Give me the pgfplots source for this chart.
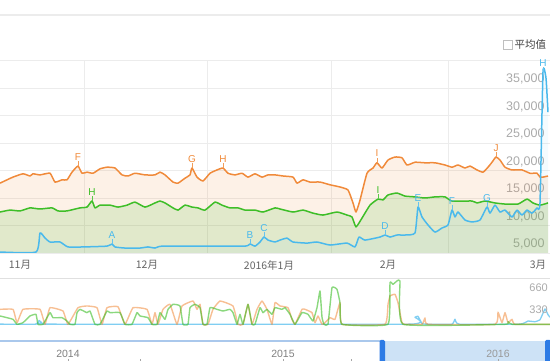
\documentclass[border=0pt]{standalone}
\usepackage{pgfplots}
\pgfplotsset{compat=1.18}
\usepackage{pgfplotstable}
\usepackage{fontspec}
\setmainfont{Liberation Sans}
\newfontfamily\cjk{Noto Sans CJK SC}
\definecolor{oC}{RGB}{240,138,58}
\definecolor{gC}{RGB}{62,190,40}
\definecolor{bC}{RGB}{74,185,236}
\definecolor{gridC}{RGB}{236,236,236}
\definecolor{lblC}{RGB}{170,170,170}
\definecolor{monC}{RGB}{100,100,100}
\definecolor{selC}{RGB}{205,226,246}
\definecolor{handleC}{RGB}{45,123,229}
\definecolor{slineC}{RGB}{170,200,236}
\newcommand\evt[4]{\draw[color=#1!85, line width=0.7pt] (axis cs:#2,#3) -- ([yshift=5pt]axis cs:#2,#3)
     node[above, inner sep=0.5pt, font=\fontsize{10}{11}\selectfont, text=#1] {#4};}

\pgfplotstableread{
x y
0 17700
7 18300
13 18800
23 19400
30 19000
33 19400
40 19200
50 19500
55 17900
62 18300
67 18300
72 19700
78 20800
82 19500
87 19700
93 19500
100 20300
107 20600
115 20450
122 19200
128 19000
135 19500
145 19200
155 19200
160 19700
165 19200
173 17900
178 17700
185 18600
190 19200
192 20450
197 18800
203 18100
210 19500
217 20100
223 20450
228 19500
235 19200
242 19500
248 18800
255 19400
262 18800
268 19200
275 19200
283 19000
293 18800
297 17700
303 18300
310 17900
320 17900
330 17400
340 17000
348 16450
353 14100
356 12450
360 14600
367 19500
373 20450
377 21400
382 20450
388 21900
395 22450
402 22300
407 21000
415 21500
425 21400
435 21400
445 21000
452 20600
458 21000
465 20450
470 20800
477 20100
483 19700
488 20600
492 21500
496 22450
500 21900
505 20600
512 20100
522 20100
530 19500
537 19500
540 18800
543 18800
548 19000
}\orangeT

\pgfplotstableread{
x y
0 12450
10 12800
20 12650
30 13200
40 13000
52 13200
58 12650
67 12650
80 13200
87 13350
92 14450
95 13200
100 13700
110 13700
118 13350
127 13700
135 14250
145 13350
155 14100
160 14450
165 14100
173 13200
178 12800
185 13700
192 13350
198 13200
205 12800
215 14250
222 13700
230 13200
238 13200
245 12800
255 12800
263 12450
275 13200
280 13000
293 12450
303 12800
313 12250
323 11900
337 12450
347 11900
352 11550
356 9750
362 11350
370 13700
378 14800
383 14650
388 15550
397 15900
405 15350
415 15200
425 15000
435 15200
445 15200
452 14450
472 14450
477 14100
485 14450
495 14100
505 13900
518 13900
527 14800
533 14100
540 13700
548 14100
}\greenT

\pgfplotstableread{
x y
0 5180
36 5180
40 8640
45 7730
50 7000
60 7000
68 6100
83 6100
107 6250
112 6640
115 6100
125 5900
140 5900
148 6100
155 5900
162 6250
202 6250
245 6250
250 6640
255 6250
260 7000
264 7900
268 7350
275 7000
280 7350
287 7700
293 7000
307 6800
317 7000
330 6450
347 6800
355 6100
359 7900
365 7350
380 7900
385 8270
390 7900
397 8270
405 8270
415 8640
418 13360
422 11550
428 10100
435 8800
442 9550
448 10100
452 12800
455 11550
458 12450
465 11000
472 10650
480 11000
487 13360
490 12250
495 13700
500 12450
505 12800
512 11550
517 12800
522 11900
527 12800
532 12250
537 13200
540 14100
543 37900
546 36800
548 30600
}\blueT

\pgfplotstableread{
x y
0 324
13 324
17 115
23 324
40 324
45 89
50 350
63 298
68 89
78 350
87 377
97 350
102 89
107 350
118 365
125 89
133 350
147 324
152 89
155 272
158 89
163 324
170 403
177 89
182 377
193 455
197 324
200 403
203 89
208 89
213 324
220 455
233 377
238 89
243 89
248 403
252 89
257 324
262 455
267 324
272 89
275 429
280 377
288 350
292 167
295 89
302 324
305 324
312 272
315 115
318 220
322 89
325 115
330 193
335 167
340 429
342 89
385 89
388 400
390 533
395 560
398 429
402 115
405 89
422 89
425 190
428 89
495 89
498 280
502 115
505 272
508 115
512 167
515 89
550 89
}\orangeM

\pgfplotstableread{
x y
0 220
7 193
13 167
17 89
23 115
30 220
36 246
38 89
43 89
50 272
53 193
62 193
67 141
70 89
75 89
77 272
80 324
87 272
90 298
95 89
100 89
107 298
110 272
120 272
125 89
132 89
137 272
140 220
148 193
152 89
157 89
160 272
165 167
168 324
173 403
180 377
183 89
188 89
190 350
195 403
200 350
203 89
207 89
210 350
217 324
223 298
230 324
233 272
237 89
240 246
243 89
248 403
252 89
255 89
260 350
263 272
267 324
272 246
275 350
282 324
285 350
290 246
295 89
302 272
308 246
313 141
317 350
320 612
322 200
324 89
328 89
332 665
337 638
340 429
342 89
388 89
390 743
393 717
397 769
400 769
403 89
505 89
508 130
512 89
550 89
}\greenM

\pgfplotstableread{
x y
0 92
36 92
39 150
42 110
46 92
410 92
415 200
418 215
422 100
426 92
452 92
455 170
459 92
520 92
528 140
535 130
540 160
545 330
548 240
550 200
}\blueM

\begin{document}
\begin{tikzpicture}
\path[use as bounding box] (0pt,0pt) rectangle (550pt,361pt);
% top separator
\draw[color=gridC, line width=1.6pt] (0pt,346pt) -- (550pt,346pt);
% legend
\draw[color=black!25, line width=0.8pt, fill=white] (503.5pt,312pt) rectangle (512.5pt,321pt);
\node[anchor=west, inner sep=0pt, font=\cjk\fontsize{10.5}{12}\selectfont, text=black!75] at (514.5pt,316.5pt) {平均值};

\begin{axis}[
  at={(0pt,108pt)}, anchor=south west,
  width=550pt, height=192.5pt, scale only axis,
  xmin=0, xmax=550, ymin=5000, ymax=40000,
  clip mode=individual,
  scaled y ticks=false,
  axis line style={draw=none},
  tick style={draw=none},
  major tick length=0pt,
  xtick={84,207,331,448},
  xticklabels={},
  ytick={5000,10000,15000,20000,25000,30000,35000,40000},
  yticklabels={{5,000},{10,000},{15,000},{20,000},{25,000},{30,000},{35,000},{}},
  yticklabel pos=right,
  yticklabel style={anchor=base east, xshift=-2pt, yshift=5pt, text=lblC, font=\fontsize{12.5}{14}\selectfont},
  grid=major,
  major grid style={color=gridC, line width=0.8pt},
  extra x ticks={20,147,269,388,538},
  extra x tick labels={{11月},{12月},{2016年1月},{2月},{3月}},
  extra x tick style={grid=none, major tick length=0pt,
     xticklabel style={text=monC, font=\cjk\fontsize{10.5}{12}\selectfont, yshift=-4pt}},
]
\addplot[draw=none, fill=oC, fill opacity=0.12, smooth, tension=0.3] table {\orangeT} \closedcycle;
\addplot[draw=none, fill=gC, fill opacity=0.15, smooth, tension=0.3] table {\greenT} \closedcycle;
\addplot[draw=none, fill=bC, fill opacity=0.06, smooth, tension=0.3] table {\blueT} \closedcycle;
\addplot[color=oC, line width=1.5pt, line join=round, smooth, tension=0.3] table {\orangeT};
\addplot[color=gC, line width=1.5pt, line join=round, smooth, tension=0.3] table {\greenT};
\addplot[color=bC, line width=1.5pt, line join=round, smooth, tension=0.3] table {\blueT};
% event markers
\evt{oC}{78}{20800}{F}
\evt{oC}{192}{20450}{G}
\evt{oC}{223}{20450}{H}
\evt{oC}{377}{21400}{I}
\evt{oC}{496}{22450}{J}
\evt{gC}{92}{14450}{H}
\evt{gC}{378}{14800}{I}
\evt{bC}{112}{6640}{A}
\evt{bC}{250}{6640}{B}
\evt{bC}{264}{7900}{C}
\evt{bC}{385}{8270}{D}
\evt{bC}{418}{13360}{E}
\evt{bC}{452}{12800}{F}
\evt{bC}{487}{13360}{G}
\evt{bC}{543}{37900}{H}
\end{axis}

% mini overview chart
\draw[color=black!12, line width=0.9pt] (0pt,83pt) -- (550pt,83pt);
\begin{axis}[
  at={(0pt,31pt)}, anchor=south west,
  width=550pt, height=51pt, scale only axis,
  xmin=0, xmax=550, ymin=0, ymax=800,
  axis line style={draw=none}, tick style={draw=none},
  xtick=\empty, ytick=\empty,
]
\addplot[color=bC, opacity=0.7, line width=1.3pt, line join=round, smooth, tension=0.2] table {\blueM};
\addplot[color=oC, opacity=0.55, line width=1.4pt, line join=round, smooth, tension=0.2] table {\orangeM};
\addplot[color=gC, opacity=0.6, line width=1.4pt, line join=round, smooth, tension=0.2] table {\greenM};
\end{axis}
\node[anchor=east, inner sep=0pt, text=lblC, font=\fontsize{11}{12}\selectfont] at (548pt,73pt) {660};
\node[anchor=east, inner sep=0pt, text=lblC, font=\fontsize{11}{12}\selectfont] at (548pt,51pt) {330};

% slider
\fill[color=selC] (382pt,0pt) rectangle (548pt,20pt);
\draw[color=slineC, line width=1.2pt] (0pt,20pt) -- (382pt,20pt);
\fill[color=handleC, rounded corners=1.5pt] (379.5pt,-2pt) rectangle (385pt,21pt);
\fill[color=handleC, rounded corners=1.5pt] (545pt,-2pt) rectangle (551pt,21pt);
\node[text=black!50, font=\fontsize{10.5}{12}\selectfont] at (68pt,7pt) {2014};
\node[text=black!50, font=\fontsize{10.5}{12}\selectfont] at (283pt,7pt) {2015};
\node[text=black!40, font=\fontsize{10.5}{12}\selectfont] at (498pt,7pt) {2016};
\draw[color=black!35, line width=0.6pt] (68pt,0pt) -- (68pt,1.5pt);
\draw[color=black!35, line width=0.6pt] (140pt,0pt) -- (140pt,1.5pt);
\draw[color=black!35, line width=0.6pt] (283pt,0pt) -- (283pt,1.5pt);
\draw[color=black!35, line width=0.6pt] (351pt,0pt) -- (351pt,1.5pt);
\draw[color=black!35, line width=0.6pt] (498pt,0pt) -- (498pt,1.5pt);
\end{tikzpicture}
\end{document}
